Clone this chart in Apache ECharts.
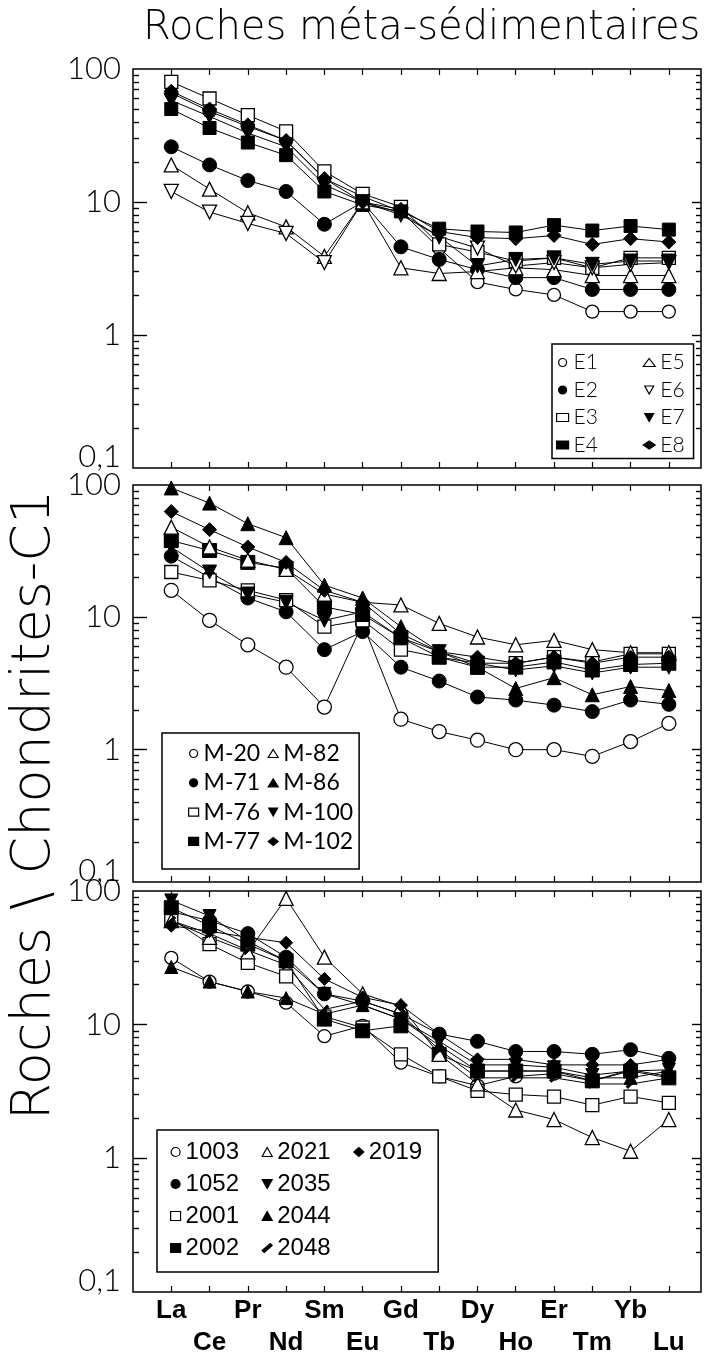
<!DOCTYPE html>
<html>
<head>
<meta charset="utf-8">
<script src="https://cdn.jsdelivr.net/npm/echarts@6/dist/echarts.min.js"></script>
<style>
  html, body { margin: 0; padding: 0; background: #fff; }
  #wrap { position: relative; width: 706px; height: 1363px; }
  .layer { position: absolute; left: 0; top: 0; width: 706px; height: 1363px; }
</style>
</head>
<body>
<div id="wrap">
  <div class="layer" id="c0"></div>
  <div class="layer" id="c1"></div>
  <div class="layer" id="c2"></div>
</div>
<script>
// terres rares, normalisées aux chondrites C1
const elements = ["La", "Ce", "Pr", "Nd", "Sm", "Eu", "Gd", "Tb", "Dy", "Ho", "Er", "Tm", "Yb", "Lu"];
const yTicks = [0.1, 1, 10, 100];
const yMajorTicks = [1, 10];
const yMinorTicks = [0.2, 0.3, 0.4, 0.5, 0.6, 0.7, 0.8, 0.9, 2, 3, 4, 5, 6, 7, 8, 9, 20, 30, 40, 50, 60, 70, 80, 90];

// panneau 1
const namesE = ["E1", "E2", "E3", "E4", "E5", "E6", "E7", "E8"];
const e1 = [66, 48, 37, 29, 15, 11, 8.5, 4.5, 2.5, 2.2, 2.0, 1.5, 1.5, 1.5];
const e2 = [26, 19, 14.5, 12, 6.8, 10, 4.6, 3.7, 3.1, 2.7, 2.7, 2.2, 2.2, 2.2];
const e3 = [80, 60, 45, 34, 17, 11.5, 9.2, 4.8, 4.2, 3.6, 3.8, 3.2, 3.8, 3.8];
const e4 = [50, 36, 28, 22.5, 12, 9.5, 8.5, 6.3, 6.0, 5.9, 6.7, 6.1, 6.6, 6.2];
const e5 = [19, 12.5, 8.3, 6.5, 3.9, 10, 3.2, 2.9, 3.0, 3.2, 3.1, 2.8, 2.8, 2.8];
const e6 = [12, 8.4, 6.9, 5.8, 3.5, 10, 8, 5.5, 4.5, 3.3, 3.5, 3.2, 3.4, 3.5];
const e7 = [58, 44, 33, 26, 13.5, 10, 8.3, 5.5, 3.3, 3.7, 3.8, 3.4, 3.6, 3.6];
const e8 = [68, 50, 38, 29, 15, 10, 8.8, 6.0, 5.4, 5.3, 5.6, 4.8, 5.3, 5.0];

// panneau 2
const namesM = ["M-20", "M-71", "M-76", "M-77", "M-82", "M-86", "M-100", "M-102"];
const m20 = [16, 9.5, 6.2, 4.2, 2.1, 9.0, 1.7, 1.37, 1.18, 1.0, 1.0, 0.89, 1.15, 1.58];
const m71 = [29, 20, 14, 11, 5.7, 7.8, 4.2, 3.3, 2.5, 2.37, 2.17, 1.94, 2.37, 2.2];
const m76 = [22, 19, 16, 13.5, 8.5, 9.5, 5.7, 5.0, 4.5, 4.5, 5.0, 4.6, 5.3, 5.3];
const m77 = [38, 32, 26, 23.5, 12, 10.5, 7, 5.0, 4.2, 4.2, 4.6, 4.0, 4.4, 4.5];
const m82 = [48, 34, 27, 23, 15, 13, 12.4, 9.0, 7.1, 6.2, 6.7, 5.7, 5.4, 5.4];
const m86 = [95, 73, 51, 40, 17.5, 14, 8.5, 5.5, 4.2, 2.9, 3.5, 2.6, 3.0, 2.8];
const m100 = [34, 22, 15, 13, 9.5, 11, 7, 5.5, 4.5, 4.0, 4.3, 3.8, 4.2, 4.2];
const m102 = [63, 46, 34, 26, 16, 13, 7.5, 5.5, 5.0, 4.5, 5.0, 4.5, 5.0, 5.0];

// panneau 3
const namesN = ["1003", "1052", "2001", "2002", "2021", "2035", "2044", "2048", "2019"];
const n1003 = [31.6, 21, 17.7, 14.6, 8.2, 9.8, 5.2, 4.1, 3.5, 4.1, 4.3, 3.8, 4.6, 4.1];
const n1052 = [70, 60, 48, 32, 17, 15, 12, 8.5, 7.5, 6.3, 6.3, 6.0, 6.5, 5.6];
const n2001 = [62, 40, 29, 23, 11.5, 9.5, 6.0, 4.1, 3.2, 3.0, 2.9, 2.5, 2.9, 2.6];
const n2002 = [75, 55, 40, 30, 11, 9.0, 9.8, 6.0, 4.5, 4.5, 4.5, 3.8, 4.5, 4.0];
const n2021 = [60, 45, 35, 88, 32, 17, 13.7, 6.0, 3.6, 2.3, 1.95, 1.43, 1.13, 1.95];
const n2035 = [85, 65, 42, 30, 17, 14, 11, 7.5, 5.0, 5.0, 4.8, 4.2, 4.5, 4.6];
const n2044 = [27, 21, 17.7, 15.8, 12, 14, 11, 7, 4.5, 4.5, 4.5, 4.0, 4.0, 4.5];
const n2048 = [60, 48, 36, 28, 13, 15, 12, 6.5, 4.0, 4.0, 4.0, 3.6, 3.6, 4.0];
const n2019 = [55, 50, 45, 41, 22, 16, 14, 8.5, 5.5, 5.5, 5.0, 5.0, 5.0, 5.5];

const INV = "path://M0,0L10,0L5,9Z";
const DASH = "path://M0,7L8,0L10,2L2,9Z";
const OPEN = { color: "#fff", borderColor: "#000", borderWidth: 1.3 };
const FILL = { color: "#000", borderColor: "#000", borderWidth: 1 };

const idx = elements.map((e, i) => i);
const panels = [
  { top: 69, height: 399 },
  { top: 485, height: 397 },
  { top: 891, height: 401 }
];

function mk(name, vals, symbol, style, size) {
  return {
    name: name,
    type: "line",
    data: vals.map((v, i) => [i, v]),
    symbol: symbol,
    symbolSize: size || 13,
    itemStyle: style,
    lineStyle: { color: "#000", width: 1 },
    emphasis: { disabled: true },
    silent: true
  };
}

const panelSeries = [
  [
    mk("E1", e1, "circle", OPEN, 13),
    mk("E2", e2, "circle", FILL, 14),
    mk("E3", e3, "rect", OPEN, 13),
    mk("E4", e4, "rect", FILL, 13),
    mk("E5", e5, "triangle", OPEN, 14),
    mk("E6", e6, INV, OPEN, 14),
    mk("E7", e7, INV, FILL, 14),
    mk("E8", e8, "diamond", FILL, 14)
  ],
  [
    mk("M-20", m20, "circle", OPEN, 14),
    mk("M-71", m71, "circle", FILL, 14),
    mk("M-76", m76, "rect", OPEN, 13),
    mk("M-77", m77, "rect", FILL, 14),
    mk("M-82", m82, "triangle", OPEN, 14),
    mk("M-86", m86, "triangle", FILL, 14),
    mk("M-100", m100, INV, FILL, 14),
    mk("M-102", m102, "diamond", FILL, 14)
  ],
  [
    mk("1003", n1003, "circle", OPEN, 13),
    mk("1052", n1052, "circle", FILL, 14),
    mk("2001", n2001, "rect", OPEN, 13),
    mk("2002", n2002, "rect", FILL, 14),
    mk("2021", n2021, "triangle", OPEN, 14),
    mk("2035", n2035, INV, FILL, 13),
    mk("2044", n2044, "triangle", FILL, 13),
    mk("2048", n2048, DASH, FILL, 9),
    mk("2019", n2019, "diamond", FILL, 13)
  ]
];

const iconOf = {};
panelSeries.forEach(list => list.forEach(s => { iconOf[s.name] = s.symbol; }));

// axe auxiliaire linéaire en log10, seulement pour dessiner les graduations
function tickAxis(pos, values, len) {
  return {
    type: "value", position: pos, min: -1, max: 2,
    axisLine: { show: false, onZero: false }, splitLine: { show: false }, axisLabel: { show: false },
    axisTick: { show: true, inside: true, length: len, customValues: values.map(v => Math.log10(v)),
      lineStyle: { color: "#000", width: 1.4 } }
  };
}

// légendes : largeur fixe pour les colonnes qui ne sont pas la dernière
function legendData(names, perCol, colWidth) {
  const nCols = Math.ceil(names.length / perCol);
  return names.map((n, i) => {
    const col = Math.floor(i / perCol);
    const item = { name: n, icon: iconOf[n] };
    if (col < nCols - 1) item.textStyle = { width: colWidth };
    return item;
  });
}

const legends = [
  {
    data: legendData(namesE, 4, 62.5),
    left: 552, top: 344, height: 111, orient: "vertical",
    padding: [8, 9, 3, 4], itemGap: 6.5, itemWidth: 12, itemHeight: 8,
    textStyle: { fontFamily: "Lato", fontWeight: 300, fontSize: 21, lineHeight: 20, color: "#000" }
  },
  {
    data: legendData(namesM, 4, 57.7),
    left: 162, top: 733, height: 133, orient: "vertical",
    padding: [9, 6, 16, 26], itemGap: 6.3, itemWidth: 10, itemHeight: 8,
    textStyle: { fontFamily: "Lato", fontWeight: 400, fontSize: 23, lineHeight: 22, color: "#000" }
  },
  {
    data: legendData(namesN, 4, 68),
    left: 157, top: 1130, height: 143, orient: "vertical",
    padding: [10, 16, 12, 13], itemGap: 8, itemWidth: 10, itemHeight: 9,
    textStyle: { fontFamily: "Liberation Sans", fontSize: 24, lineHeight: 24, color: "#000" }
  }
].map(l => Object.assign({
  selectedMode: false, borderColor: "#000", borderWidth: 1.5, borderRadius: 0,
  backgroundColor: "#fff", itemStyle: { borderWidth: 1.2 }
}, l));

// un graphique par panneau, superposés
panels.forEach((pn, p) => {
  const xAxes = ["bottom", "top"].map(pos => {
    const withLabels = p === 2 && pos === "bottom";
    return {
      type: "value", position: pos, min: -1, max: 13.84,
      axisLine: { show: false, onZero: false }, splitLine: { show: false },
      axisTick: { show: true, inside: true, length: 6, customValues: idx, lineStyle: { color: "#000", width: 1.2 } },
      axisLabel: withLabels ? {
        show: true,
        customValues: idx,
        margin: 3,
        formatter: v => {
          const i = Math.round(v);
          return i % 2 ? "\n" + elements[i] : elements[i];
        },
        fontFamily: "Liberation Sans", fontWeight: "bold", fontSize: 26,
        lineHeight: 32, color: "#000"
      } : { show: false }
    };
  });
  const yAxes = [
    {
      type: "log", logBase: 10, min: 0.1, max: 100, position: "left",
      axisLine: { show: false, onZero: false }, splitLine: { show: false }, axisTick: { show: false },
      axisLabel: {
        show: true, customValues: yTicks, margin: 12,
        formatter: v => v < 0.5 ? "{low|0,1}" : String(Math.round(v)),
        fontFamily: "Lato", fontWeight: 300, fontSize: 31, color: "#000",
        rich: { low: { fontFamily: "Lato", fontWeight: 300, fontSize: 31, color: "#000", padding: [0, 0, 22, 0] } }
      }
    },
    tickAxis("left", yMajorTicks, 14),
    tickAxis("left", yMinorTicks, 6),
    tickAxis("right", yMajorTicks, 9),
    tickAxis("right", yMinorTicks, 5)
  ];
  const opt = {
    animation: false,
    grid: [{ left: 133, right: 5, top: pn.top, height: pn.height,
      show: true, borderColor: "#000", borderWidth: 1.5 }],
    xAxis: xAxes,
    yAxis: yAxes,
    legend: [legends[p]],
    series: panelSeries[p]
  };
  if (p === 0) {
    opt.title = {
      text: "Roches méta-sédimentaires",
      left: 138, top: 4,
      textStyle: { fontFamily: "DejaVu Sans", fontWeight: 200, fontSize: 40, color: "#000" }
    };
  }
  if (p === 1) {
    opt.graphic = [{
      type: "text",
      x: 35, y: 805, rotation: Math.PI / 2,
      style: {
        text: "Roches \\ Chondrites-C1",
        fontFamily: "DejaVu Sans", fontWeight: 200, fontSize: 54, fill: "#000",
        textAlign: "center", textVerticalAlign: "middle"
      }
    }];
  }
  echarts.init(document.getElementById("c" + p)).setOption(opt);
});
</script>
</body>
</html>
